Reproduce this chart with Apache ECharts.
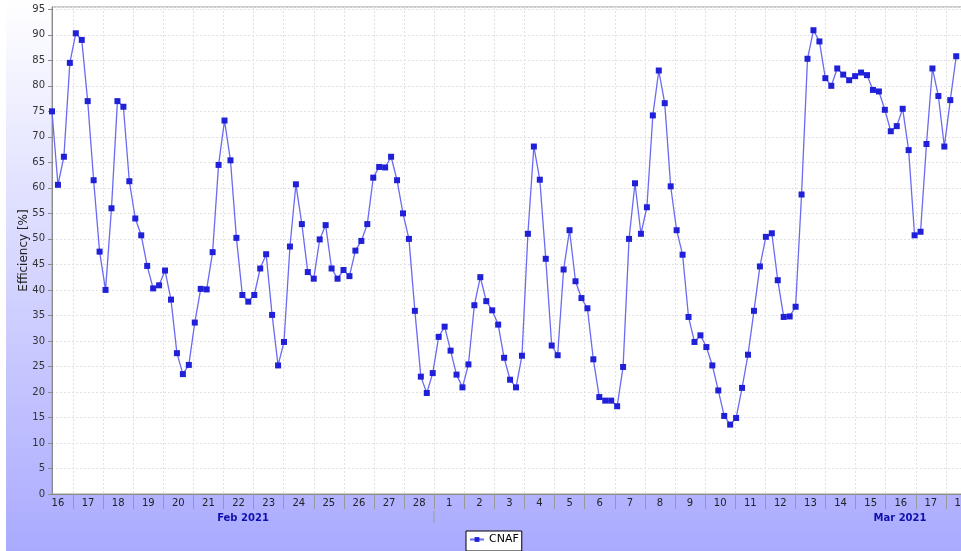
<!DOCTYPE html>
<html>
<head>
<meta charset="utf-8">
<script src="https://cdn.jsdelivr.net/npm/echarts@6/dist/echarts.min.js"></script>
<style>
html,body{margin:0;padding:0;background:#fff;}
#chart{width:961px;height:551px;}
</style>
</head>
<body>
<div id="chart"></div>
<script>
// Day labels along the time axis (Feb 16 .. Mar 18, 2021)
const dayLabels = ['16','17','18','19','20','21','22','23','24','25','26','27','28',
  '1','2','3','4','5','6','7','8','9','10','11','12','13','14','15','16','17','18'];
const monthLabels = ['Feb 2021', 'Mar 2021'];
const yTicks = [0,5,10,15,20,25,30,35,40,45,50,55,60,65,70,75,80,85,90,95];
const seriesName = 'CNAF';
// Efficiency [%] samples in time order
const cnafValues = [
  75.0, 60.6, 66.1, 84.5, 90.3, 89.0, 77.0, 61.5, 47.5, 40.0,
  56.0, 77.0, 75.9, 61.3, 54.0, 50.7, 44.7, 40.3, 40.9, 43.8,
  38.1, 27.6, 23.5, 25.3, 33.6, 40.2, 40.1, 47.4, 64.5, 73.2,
  65.4, 50.2, 39.0, 37.7, 39.0, 44.2, 47.0, 35.1, 25.2, 29.8,
  48.5, 60.7, 52.9, 43.5, 42.2, 49.9, 52.7, 44.2, 42.2, 43.9,
  42.7, 47.7, 49.6, 52.9, 62.0, 64.1, 64.0, 66.1, 61.5, 55.0,
  50.0, 35.9, 23.0, 19.8, 23.7, 30.8, 32.8, 28.1, 23.4, 20.9,
  25.4, 37.0, 42.5, 37.8, 36.0, 33.2, 26.7, 22.4, 20.9, 27.1,
  51.0, 68.1, 61.6, 46.1, 29.1, 27.2, 44.0, 51.7, 41.7, 38.4,
  36.4, 26.4, 19.0, 18.3, 18.3, 17.2, 24.9, 50.0, 60.9, 51.0,
  56.2, 74.2, 83.0, 76.6, 60.3, 51.7, 46.9, 34.7, 29.8, 31.1,
  28.8, 25.2, 20.3, 15.3, 13.6, 14.9, 20.8, 27.3, 35.9, 44.6,
  50.4, 51.1, 41.9, 34.7, 34.8, 36.7, 58.7, 85.3, 90.9, 88.7,
  81.5, 80.0, 83.4, 82.2, 81.1, 81.9, 82.6, 82.1, 79.2, 78.9,
  75.3, 71.1, 72.1, 75.5, 67.4, 50.7, 51.4, 68.6, 83.4, 78.0,
  68.1, 77.2, 85.8
];

const FONT = 'DejaVu Sans';
const chart = echarts.init(document.getElementById('chart'), null, {renderer: 'canvas'});
const seriesData = cnafValues.map((v, i) => [i, v]);
const skipFirst = (idx) => idx !== 0;

const option = {
  animation: false,
  backgroundColor: {
    type: 'linear', x: 0, y: 0, x2: 0, y2: 1,
    colorStops: [{offset: 0, color: '#ffffff'}, {offset: 1, color: '#aaaaff'}]
  },
  textStyle: {fontFamily: FONT},
  grid: [
    {left: 52, top: 7, width: 910, height: 487, show: true, backgroundColor: '#ffffff',
     borderColor: '#9a9a9a', borderWidth: 1, outerBoundsMode: 'none', containLabel: false},
    {left: 42.9, top: 7, width: 933.1, height: 487, show: false, outerBoundsMode: 'none', containLabel: false}
  ],
  xAxis: [
    {type: 'value', gridIndex: 0, min: 0, max: 152.97,
     axisLine: {show: true, lineStyle: {color: '#8c8c8c', width: 1}},
     axisTick: {show: false}, axisLabel: {show: false}, splitLine: {show: false}},
    {type: 'category', gridIndex: 1, data: dayLabels, boundaryGap: true, position: 'bottom',
     axisLine: {show: false},
     axisTick: {show: true, length: 15, interval: skipFirst, lineStyle: {color: '#9a9a9a'}},
     axisLabel: {show: true, interval: 0, margin: 4, fontSize: 10, color: '#222', fontFamily: FONT,
       hideOverlap: false, showMinLabel: true, showMaxLabel: true},
     splitLine: {show: true, interval: skipFirst, lineStyle: {color: '#e2e2e2', type: [2, 2], width: 1}}}
  ],
  yAxis: [
    {type: 'value', gridIndex: 0, min: 0, max: 95.45, interval: 5,
     name: 'Efficiency [%]', nameLocation: 'middle', nameGap: 22, nameRotate: 90,
     nameMoveOverlap: false,
     nameTextStyle: {fontSize: 12, color: '#222', fontFamily: FONT},
     axisLine: {show: true, lineStyle: {color: '#8c8c8c'}},
     axisTick: {show: true, length: 4, lineStyle: {color: '#8c8c8c'}},
     axisLabel: {fontSize: 10, color: '#333', margin: 7, fontFamily: FONT, showMaxLabel: false,
       formatter: v => (yTicks.indexOf(v) >= 0 ? String(v) : '')},
     splitLine: {show: true, lineStyle: {color: '#e2e2e2', type: [2, 2]}}},
    {type: 'value', gridIndex: 1, show: false, min: 0, max: 95.45}
  ],
  legend: {
    data: [seriesName], left: 466, top: 531, orient: 'horizontal',
    backgroundColor: '#ffffff', borderColor: '#000000', borderWidth: 1,
    padding: [3, 3, 6, 3], itemWidth: 14, itemHeight: 6, itemGap: 4,
    textStyle: {fontSize: 11, color: '#000', fontFamily: FONT}
  },
  graphic: [
    {type: 'rect', shape: {x: 0, y: 0, width: 6, height: 551}, style: {fill: '#ffffff'}, z: -1},
    {type: 'line', shape: {x1: 434, y1: 511, x2: 434, y2: 523}, style: {stroke: '#9a9a9a', lineWidth: 1}},
    {type: 'text', x: 243, y: 518, style: {text: monthLabels[0], fill: '#1010b0', font: 'bold 10px "DejaVu Sans"', align: 'center', verticalAlign: 'middle'}},
    {type: 'text', x: 900, y: 518, style: {text: monthLabels[1], fill: '#1010b0', font: 'bold 10px "DejaVu Sans"', align: 'center', verticalAlign: 'middle'}}
  ],
  series: [{
    name: seriesName, type: 'line', xAxisIndex: 0, yAxisIndex: 0,
    data: seriesData,
    symbol: 'rect', symbolSize: 6, showAllSymbol: true,
    lineStyle: {color: '#6a6af2', width: 1.3},
    itemStyle: {color: '#2020d8', borderWidth: 0},
    emphasis: {disabled: true}
  }]
};
chart.setOption(option);
</script>
</body>
</html>
